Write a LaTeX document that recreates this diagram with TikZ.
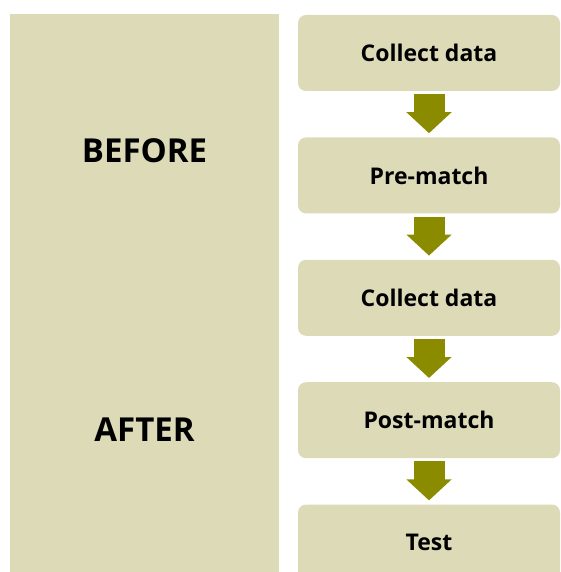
\documentclass[tikz,border=0pt]{standalone}
\usepackage{fontspec}
\setmainfont{Open Sans}
\usetikzlibrary{positioning,arrows.meta}
\definecolor{sand}{RGB}{221,219,183}
\definecolor{olive}{RGB}{139,139,0}

\begin{document}
\begin{tikzpicture}[x=1pt,y=-1pt,
  node distance=46pt,
  stage/.style={fill=sand,rounded corners=8pt,minimum width=262pt,minimum height=76pt,
    inner sep=0pt,font=\fontsize{23}{27}\selectfont\bfseries},
  phase/.style={font=\fontsize{33}{39}\selectfont\bfseries},
  flow/.style={olive,line width=31pt,shorten <=3pt,shorten >=4pt,
    -{Triangle[width=44pt,length=21pt]}}]
\useasboundingbox (0,0) rectangle (561,572);
\clip (0,0) rectangle (561,572);
% left panel
\node [fill=sand,minimum width=269pt,minimum height=570pt,inner sep=0pt,anchor=north west] (side) at (10,14) {};
\node [phase] (before) at (144.5,151) {BEFORE};
\node [phase] (after) at (144.5,430) {AFTER};
% steps
\node [stage] (collect1) at (429,53) {Collect data};
\node [stage,below=of collect1] (prematch) {Pre-match};
\node [stage,below=of prematch] (collect2) {Collect data};
\node [stage,below=of collect2] (postmatch) {Post-match};
\node [stage,below=of postmatch] (test) {Test};
\draw [flow] (collect1) -- (prematch);
\draw [flow] (prematch) -- (collect2);
\draw [flow] (collect2) -- (postmatch);
\draw [flow] (postmatch) -- (test);
\end{tikzpicture}
\end{document}
